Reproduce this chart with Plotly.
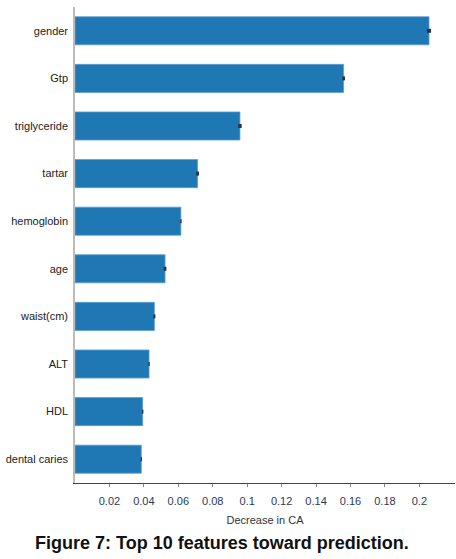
import plotly.graph_objects as go

features = ["gender", "Gtp", "triglyceride", "tartar", "hemoglobin", "age",
            "waist(cm)", "ALT", "HDL", "dental caries"]
importance = [0.2056, 0.1560, 0.0958, 0.0712, 0.0615, 0.0523, 0.0461, 0.0430, 0.0393, 0.0385]
errors = [0.0012, 0.0008, 0.0010, 0.0008, 0.0004, 0.0008, 0.0006, 0.0004, 0.0004, 0.0004]
tick_vals = [0.02, 0.04, 0.06, 0.08, 0.1, 0.12, 0.14, 0.16, 0.18, 0.2]
tick_text = ["0.02", "0.04", "0.06", "0.08", "0.1", "0.12", "0.14", "0.16", "0.18", "0.2"]

fig = go.Figure(go.Bar(
    x=importance, y=features, orientation="h",
    marker=dict(color="#1f77b4", line=dict(color="#5a9fd4", width=0.8)),
    error_x=dict(type="data", array=errors, color="#333333", thickness=4, width=0),
    width=0.59,
))

fig.update_layout(
    width=456, height=559,
    margin=dict(l=75, r=1, t=7, b=76, autoexpand=False),
    plot_bgcolor="white", paper_bgcolor="white",
    showlegend=False,
    font=dict(family="Liberation Sans", color="#333333"),
    xaxis=dict(
        range=[0, 0.2207], tickvals=tick_vals, ticktext=tick_text,
        showgrid=False, zeroline=False, automargin=False,
        showline=True, linecolor="#444444", linewidth=1.2,
        ticks="outside", ticklen=3, tickcolor="#888888", ticklabelstandoff=5,
        tickfont=dict(family="Liberation Sans", size=11, color="#2a3a5a"),
        title=dict(text="Decrease in CA", font=dict(family="Liberation Sans", size=11, color="#333333"), standoff=10),
    ),
    yaxis=dict(
        autorange="reversed", showgrid=False, zeroline=False, automargin=False,
        showline=True, linecolor="#bbbbbb", linewidth=1.5,
        ticks="", ticklabelstandoff=3,
        tickfont=dict(family="Liberation Sans", size=11, color="#222222"),
    ),
    annotations=[dict(
        text="<b>Figure 7: Top 10 features toward prediction.</b>",
        xref="paper", yref="paper", x=0.388, y=0, yshift=-60,
        xanchor="center", yanchor="middle", showarrow=False,
        font=dict(family="Liberation Sans", size=18, color="#111111"),
    )],
)

fig.write_html("out.html", config={"displayModeBar": False},
               post_script="document.body.style.margin='0';document.body.style.overflow='hidden';")
